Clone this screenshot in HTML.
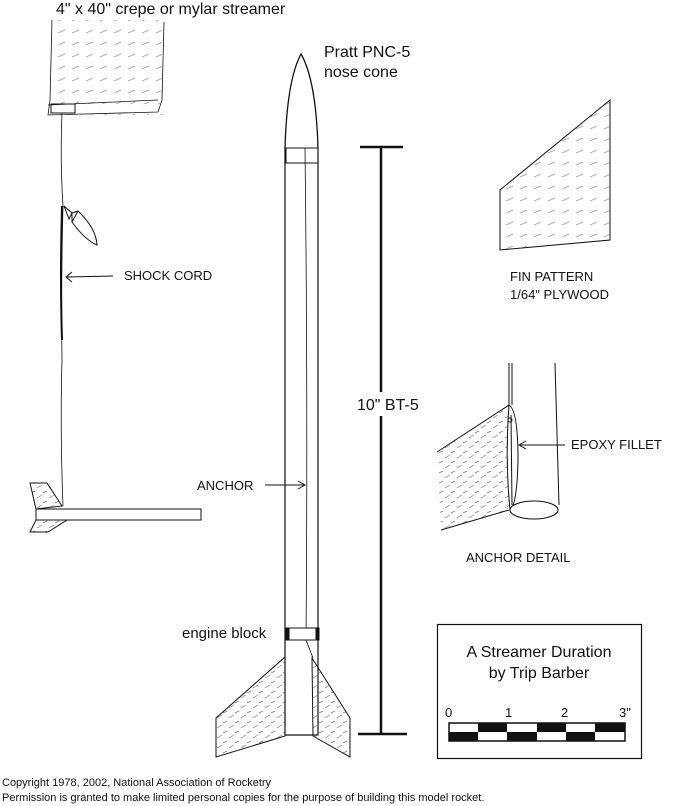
<!DOCTYPE html>
<html><head><meta charset="utf-8"><style>
html,body{margin:0;padding:0;background:#fff;}
svg{display:block;}
text{font-family:"Liberation Sans",Arial,sans-serif;fill:#111;}
</style></head><body>
<svg width="673" height="806" viewBox="0 0 673 806" xmlns="http://www.w3.org/2000/svg">
<defs>
<pattern id="h" width="12" height="10" patternUnits="userSpaceOnUse">
<path d="M1 8 L6 5 M7 3 L11 1" stroke="#777" stroke-width="0.7"/>
</pattern>
<pattern id="h2" width="14" height="12" patternUnits="userSpaceOnUse">
<path d="M2 9 L9 6" stroke="#999" stroke-width="0.7"/>
</pattern>
</defs>
<g fill="none" stroke="#111" stroke-width="1">
<!-- streamer -->
<text x="56" y="14" font-size="16" stroke="none">4" x 40" crepe or mylar streamer</text>
<path d="M52 20 L50 100 L48 115 L158 112 L162 100 L164 22" stroke-width="0.8"/>
<rect x="49" y="105" width="115" height="10" fill="url(#h2)" stroke="none"/>
<rect x="52" y="20" width="110" height="84" fill="url(#h2)" stroke="none"/>
<path d="M48 105 L158 100" stroke-width="0.8"/>
<rect x="51" y="104" width="24" height="9"/>
<path d="M62 113 Q60 160 63 206 Q61 280 62 360 Q60 430 63 506" stroke-width="0.8"/>
<path d="M62 206 Q60 280 62 340" stroke-width="2"/>
<!-- mini nose cone -->
<path d="M72 213 L78 211 Q96 228 97 245 Q85 240 72 222 Z"/>
<path d="M64 206 L72 213 L69 219 Z"/>
<path d="M72 222 L78 211"/>
<text x="124" y="280" font-size="13" stroke="none">SHOCK CORD</text>
<path d="M113 276 L67 277 M72 272 L66 277 L72 282"/>
<!-- mini rocket -->
<rect x="36" y="509" width="165" height="11" fill="#fff"/>
<path d="M36 509 L30 483 L47 483 L62 506 Z" fill="url(#h)"/>
<path d="M36 520 L30 532 L48 532 L67 520 Z" fill="url(#h)"/>
<!-- main rocket -->
<text x="324" y="57" font-size="16" stroke="none">Pratt PNC-5</text>
<text x="324" y="77" font-size="16" stroke="none">nose cone</text>
<path d="M285 148 Q287 80 301 54 Q316 80 318 148" stroke-width="1.3"/>
<rect x="286" y="148" width="32" height="15"/>
<path d="M285 148 L285 735 L318 735 L318 148" stroke-width="1.2"/>
<path d="M305 148 Q308 400 306 640 L313 658" stroke-width="0.8"/>
<rect x="286" y="628" width="32" height="12" fill="#fff"/>
<rect x="286" y="628" width="3" height="12" fill="#111"/>
<rect x="316" y="628" width="3" height="12" fill="#111"/>
<text x="182" y="638" font-size="15" stroke="none">engine block</text>
<path d="M285 657 L216 718 L216 757 L285 736 Z" fill="url(#h)"/>
<path d="M312 658 L350 718 L350 757 L313 736 Z" fill="url(#h)"/>
<text x="197" y="490" font-size="13" stroke="none">ANCHOR</text>
<path d="M265 485 L305 485 M298 481 L305 485 L298 489"/>
<!-- dimension -->
<path d="M381 147 L381 734 M360 147 L403 147 M358 734 L407 734" stroke-width="2.5"/>
<rect x="356" y="392" width="56" height="24" fill="#fff" stroke="none"/>
<text x="357" y="410" font-size="16" stroke="none">10" BT-5</text>
<!-- fin pattern -->
<path d="M500 190 L610 100 L610 240 L500 250 Z" fill="url(#h2)"/>
<text x="510" y="281" font-size="13" stroke="none">FIN PATTERN</text>
<text x="510" y="299" font-size="13" stroke="none">1/64" PLYWOOD</text>
<!-- anchor detail -->
<path d="M509 363 L509 405 M512 363 L512 405 M555 363 L559 505"/>
<path d="M437 452 L509 405 L509 510 L441 530 Z" fill="url(#h)" stroke="none"/>
<path d="M437 452 L509 405 M441 530 L509 510"/>
<path d="M509 405 Q505 460 510 510 Q517 505 518 460 Q518 410 509 405" fill="#fff"/>
<path d="M511 415 L512 505"/>
<circle cx="510" cy="420" r="2"/>
<ellipse cx="534" cy="510" rx="24" ry="9" fill="#fff"/>
<text x="571" y="449" font-size="13" stroke="none">EPOXY FILLET</text>
<path d="M565 445 L519 445 M526 441 L519 445 L526 449"/>
<text x="466" y="562" font-size="13" stroke="none">ANCHOR DETAIL</text>
<!-- title box -->
<rect x="437.5" y="624.5" width="204" height="134" stroke-width="1.2"/>
<text x="539" y="657" font-size="16" text-anchor="middle" stroke="none">A Streamer Duration</text>
<text x="539" y="678" font-size="16" text-anchor="middle" stroke="none">by Trip Barber</text>
<text x="445" y="717" font-size="13" stroke="none">0</text>
<text x="505" y="717" font-size="13" stroke="none">1</text>
<text x="561" y="717" font-size="13" stroke="none">2</text>
<text x="619" y="717" font-size="13" stroke="none">3"</text>
<rect x="449" y="723" width="176" height="18" stroke-width="1.5"/>
<g fill="#111" stroke="none">
<rect x="478" y="723" width="29" height="9"/><rect x="537" y="723" width="29" height="9"/><rect x="595" y="723" width="30" height="9"/>
<rect x="449" y="732" width="29" height="9"/><rect x="507" y="732" width="30" height="9"/><rect x="566" y="732" width="29" height="9"/>
</g>
<text x="2" y="786" font-size="11" stroke="none">Copyright 1978, 2002, National Association of Rocketry</text>
<text x="2" y="801" font-size="11" stroke="none">Permission is granted to make limited personal copies for the purpose of building this model rocket.</text>
</g>
</svg>
</body></html>
